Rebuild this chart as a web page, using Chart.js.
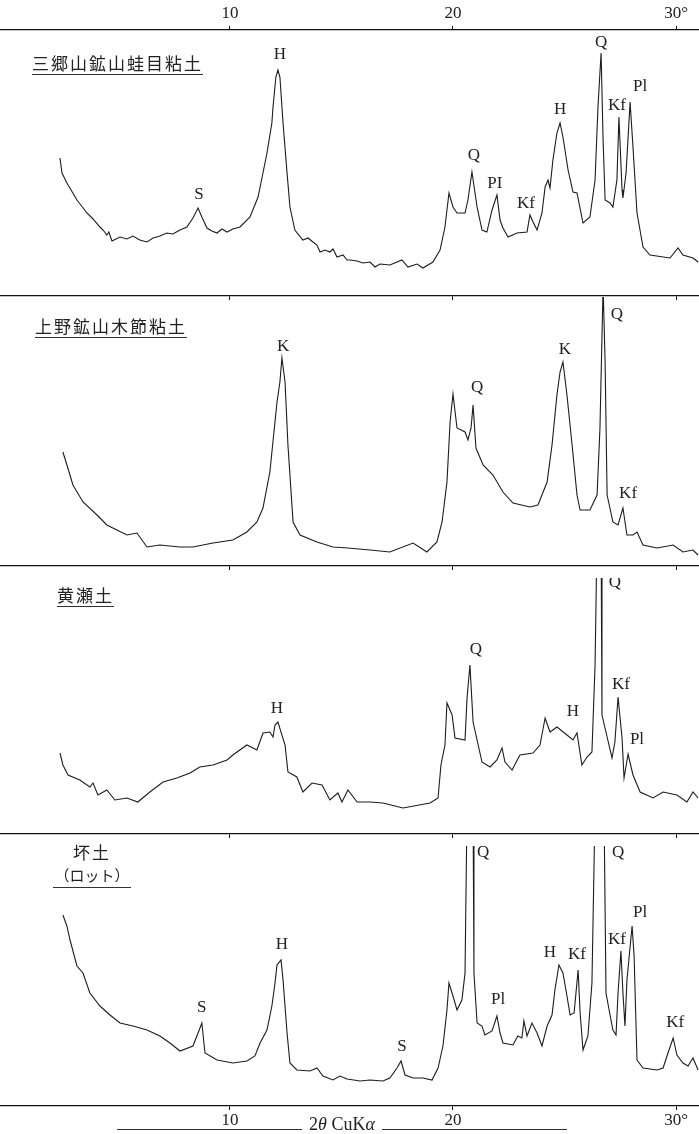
<!DOCTYPE html>
<html lang="ja">
<head>
<meta charset="utf-8">
<title>X線回折図</title>
<script src="https://cdn.jsdelivr.net/npm/chart.js@4.4.1/dist/chart.umd.min.js"></script>
<style>
  body { margin: 0; background: #fff; }
  #wrap { position: relative; width: 699px; height: 1134px; overflow: hidden; background: #fff; }
  canvas { position: absolute; left: 0; }
  .title {
    position: absolute;
    font-family: "Noto Sans CJK JP", sans-serif;
    font-size: 17px;
    line-height: 20px;
    letter-spacing: 2px;
    color: #222;
    white-space: nowrap;
    padding-bottom: 1px;
    border-bottom: 1.5px solid #333;
  }
  #t4 { width: 78px; text-align: center; letter-spacing: 0; line-height: 22px; }
  #t4 .l1 { letter-spacing: 2px; }
  #t4 .l2 { font-size: 15px; }
  #xlabel {
    position: absolute; left: 117px; top: 1115px; width: 450px;
    display: flex; align-items: flex-end;
    font-family: "Liberation Serif", serif; font-size: 18px; line-height: 18px; color: #222;
  }
  #xlabel .ln { flex: 1; border-bottom: 1px solid #333; margin-bottom: 3px; }
  #xlabel .tx { padding: 0 7px; white-space: nowrap; }
</style>
</head>
<body>
<div id="wrap">
  <canvas id="c1" width="699" height="301" style="top:0px"></canvas>
  <canvas id="c2" width="699" height="274" style="top:297px"></canvas>
  <canvas id="c3" width="699" height="261" style="top:578px"></canvas>
  <canvas id="c4" width="699" height="288" style="top:846px"></canvas>

  <div class="title" style="left:32px; top:53px">三郷山鉱山蛙目粘土</div>
  <div class="title" style="left:35px; top:316px">上野鉱山木節粘土</div>
  <div class="title" style="left:57px; top:585px">黄瀬土</div>
  <div class="title" id="t4" style="left:53px; top:841px"><span class="l1">坏土</span><br><span class="l2">（ロット）</span></div>

  <div id="xlabel"><span class="ln"></span><span class="tx">2<i>θ</i> CuK<i>α</i></span><span class="ln"></span></div>
</div>

<script>
// 2θ (deg) and intensity
let angles1 = [2.38,2.47,2.69,3.14,3.59,3.86,4.17,4.35,4.48,4.57,4.71,5.07,5.38,5.65,5.96,6.28,6.55,6.86,7.17,7.44,7.76,8.07,8.34,8.57,8.74,8.97,9.19,9.42,9.64,9.87,10.13,10.45,10.90,11.26,11.48,11.66,11.88,11.93,12.06,12.15,12.24,12.38,12.56,12.69,12.91,13.27,13.50,13.72,13.90,14.04,14.26,14.48,14.62,14.80,15.07,15.25,15.38,15.70,15.96,16.28,16.50,16.73,17.17,17.71,17.98,18.39,18.65,19.10,19.42,19.64,19.82,20.00,20.18,20.54,20.67,20.85,21.08,21.30,21.52,21.75,21.97,22.11,22.24,22.47,22.87,23.32,23.45,23.59,23.77,23.99,24.13,24.26,24.35,24.48,24.66,24.80,24.93,25.16,25.38,25.56,25.83,26.14,26.37,26.50,26.64,26.73,26.82,27.04,27.17,27.35,27.44,27.58,27.62,27.76,27.94,28.07,28.25,28.52,28.83,29.73,30.09,30.31,30.76,30.99];
let counts1 = [138,123,113,96,83,77,69,65,61,64,55,59,57,60,56,54,58,60,63,62,66,69,78,88,79,68,65,63,67,64,67,69,79,99,123,143,173,189,219,226,219,173,123,89,66,56,58,54,51,44,46,44,47,39,41,36,36,35,33,34,29,32,31,36,29,32,28,34,46,69,103,89,83,83,96,124,89,66,64,86,101,76,68,59,63,64,81,74,66,83,109,116,108,136,163,173,159,126,104,103,73,79,116,189,243,156,96,93,89,116,179,106,98,123,194,149,83,49,41,38,48,41,38,34];

let angles2 = [2.51,2.69,2.96,3.41,4.04,4.48,4.93,5.38,5.83,6.28,6.86,7.76,8.34,9.24,10.13,10.76,11.21,11.48,11.79,12.11,12.24,12.33,12.47,12.60,12.83,13.14,13.90,14.62,15.29,16.28,17.17,18.21,18.83,19.28,19.51,19.73,19.87,20.00,20.18,20.54,20.67,20.81,20.90,21.03,21.35,21.79,22.24,22.69,23.45,23.81,24.22,24.44,24.66,24.80,24.93,25.11,25.34,25.56,25.70,26.14,26.46,26.59,26.73,26.82,26.91,27.17,27.40,27.62,27.80,28.07,28.25,28.52,29.15,29.87,30.31,30.76,30.99];
let counts2 = [114,101,81,64,51,41,36,31,33,19,21,19,19,23,26,34,44,58,94,164,184,208,184,121,44,31,24,19,18,16,14,23,14,24,44,84,144,172,138,134,126,138,161,118,101,91,74,63,59,61,84,121,171,194,204,171,121,71,56,56,71,138,280,204,71,44,41,58,31,31,34,21,18,21,14,16,11];

let angles3 = [2.38,2.51,2.74,3.27,3.72,3.86,4.08,4.48,4.84,5.38,5.87,6.41,7.00,7.62,8.21,8.65,9.24,9.87,10.13,10.76,11.21,11.48,11.79,11.93,12.02,12.15,12.47,12.60,13.00,13.27,13.68,14.13,14.48,14.84,15.02,15.29,15.70,16.28,16.86,17.76,18.97,19.33,19.46,19.64,19.73,19.96,20.09,20.54,20.63,20.76,20.90,21.30,21.66,21.97,22.20,22.33,22.65,23.00,23.59,23.90,24.13,24.35,24.66,25.11,25.38,25.56,25.78,26.01,26.23,26.37,26.46,26.55,26.64,26.68,26.91,27.13,27.26,27.40,27.58,27.67,27.85,28.07,28.39,28.97,29.42,30.04,30.49,30.76,30.99];
let counts3 = [81,69,59,54,47,51,39,44,34,36,32,42,52,56,61,67,69,74,79,89,84,101,102,97,109,112,89,62,57,42,51,49,34,41,32,44,32,32,31,26,31,36,69,89,131,119,96,94,136,169,112,72,67,74,86,72,64,79,81,89,116,102,107,99,94,101,69,77,82,169,300,330,300,119,97,76,92,137,96,56,80,59,42,36,42,39,32,42,36];

let angles4 = [2.51,2.69,2.83,3.14,3.41,3.72,4.17,4.62,5.07,5.65,6.28,6.86,7.31,7.76,8.34,8.57,8.74,8.88,9.42,10.13,10.76,11.12,11.35,11.66,11.88,12.02,12.11,12.29,12.38,12.56,12.69,13.00,13.59,13.90,14.17,14.62,14.93,15.25,15.83,16.28,16.86,17.17,17.49,17.67,17.85,18.21,18.65,19.06,19.33,19.55,19.73,19.82,20.00,20.18,20.40,20.54,20.63,20.76,20.90,20.94,21.08,21.30,21.43,21.75,21.97,22.11,22.24,22.69,22.91,23.09,23.18,23.32,23.54,23.77,23.99,24.22,24.44,24.57,24.75,24.93,25.11,25.25,25.43,25.61,25.70,25.83,26.05,26.23,26.37,26.59,26.77,26.86,27.00,27.17,27.31,27.40,27.53,27.62,27.71,27.80,28.03,28.12,28.25,28.52,29.15,29.42,29.64,29.87,30.04,30.31,30.54,30.76,30.99];
let counts4 = [191,180,166,140,133,113,100,91,83,80,76,70,63,55,60,73,83,53,46,43,45,50,63,76,100,123,141,146,126,73,43,36,35,38,30,26,30,27,25,26,25,28,38,45,31,28,28,26,38,60,96,123,110,96,106,133,300,320,300,133,83,80,71,75,90,73,63,61,70,68,85,70,83,73,60,80,91,116,141,133,110,91,93,136,93,56,70,123,300,320,300,113,96,76,71,113,155,113,80,126,180,150,46,38,36,38,53,68,51,43,40,48,36];

// peak labels: mineral, 2θ, intensity level of the letter
let peaks1 = ['S','H','Q','PI','Kf','H','Q','Kf','Pl'];
let peakAngles1 = [8.61,12.24,20.94,21.88,23.27,24.80,26.64,27.35,28.39];
let peakLevels1 = [101,241,140,112,92,186,253,190,209];

let peaks2 = ['K','Q','K','Q','Kf'];
let peakAngles2 = [12.38,21.08,25.02,27.35,27.85];
let peakLevels2 = [219,178,216,251,72];

let peaks3 = ['H','Q','H','Q','Kf','Pl'];
let peakAngles3 = [12.11,21.03,25.38,27.26,27.53,28.25];
let peakLevels3 = [125,184,122,251,149,94];

let peaks4 = ['S','H','S','Q','Pl','H','Kf','Q','Kf','Pl','Kf'];
let peakAngles4 = [8.74,12.33,17.71,21.35,22.02,24.35,25.56,27.40,27.35,28.39,29.96];
let peakLevels4 = [98,161,59,253,106,153,151,253,166,193,83];

let tickAngles = [10, 20, 30];
let xMin = -0.31;
let xMax = 31.03;

const serif = '"Liberation Serif", "DejaVu Serif", serif';

// draws the mineral letters over each trace
const peakLabels = {
    id: 'peakLabels',
    afterDatasetsDraw(chart, args, opts) {
        const ctx = chart.ctx;
        const xs = chart.scales.x;
        const ys = chart.scales.y;
        ctx.save();
        ctx.font = '17px ' + serif;
        ctx.fillStyle = '#222';
        ctx.textAlign = 'center';
        ctx.textBaseline = 'middle';
        opts.names.forEach((n, i) => {
            ctx.fillText(n, xs.getPixelForValue(opts.angles[i]), ys.getPixelForValue(opts.levels[i]));
        });
        ctx.restore();
    }
};

function degAxis(position, height, showLabels, tickLen, pad) {
    return {
        type: 'linear',
        position: position,
        min: xMin,
        max: xMax,
        afterBuildTicks: s => { s.ticks = tickAngles.map(v => ({ value: v })); },
        afterFit: s => { s.height = height; },
        grid: { drawOnChartArea: false, drawTicks: true, tickLength: tickLen, color: '#111', lineWidth: 1 },
        border: { display: true, color: '#111', width: 1.3 },
        ticks: {
            display: showLabels,
            color: '#222',
            padding: pad,
            maxRotation: 0,
            font: { family: serif, size: 17 },
            callback: v => v === 30 ? '30°' : String(v)
        }
    };
}

function makeChart(id, angles, counts, yMax, names, pAngles, pLevels, bottomHeight, bottomLabels, withTop) {
    const scales = {
        x: degAxis('bottom', bottomHeight, bottomLabels, 4, 0),
        y: { display: false, min: 0, max: yMax }
    };
    if (withTop) {
        scales.x2 = degAxis('top', 30, true, 4, 2);
    }
    return new Chart(document.getElementById(id), {
        type: 'line',
        data: {
            datasets: [{
                data: angles.map((a, i) => ({ x: a, y: counts[i] })),
                borderColor: '#1c1c1c',
                borderWidth: 1.1,
                pointRadius: 0,
                tension: 0,
                fill: false
            }]
        },
        options: {
            responsive: false,
            animation: false,
            layout: { padding: 0 },
            parsing: false,
            scales: scales,
            plugins: {
                legend: { display: false },
                tooltip: { enabled: false },
                peakLabels: { names: names, angles: pAngles, levels: pLevels }
            }
        },
        plugins: [peakLabels]
    });
}

makeChart('c1', angles1, counts1, 266, peaks1, peakAngles1, peakLevels1, 5, false, true);
makeChart('c2', angles2, counts2, 269, peaks2, peakAngles2, peakLevels2, 5, false, false);
makeChart('c3', angles3, counts3, 256, peaks3, peakAngles3, peakLevels3, 5, false, false);
makeChart('c4', angles4, counts4, 260, peaks4, peakAngles4, peakLevels4, 28, true, false);
</script>
</body>
</html>
